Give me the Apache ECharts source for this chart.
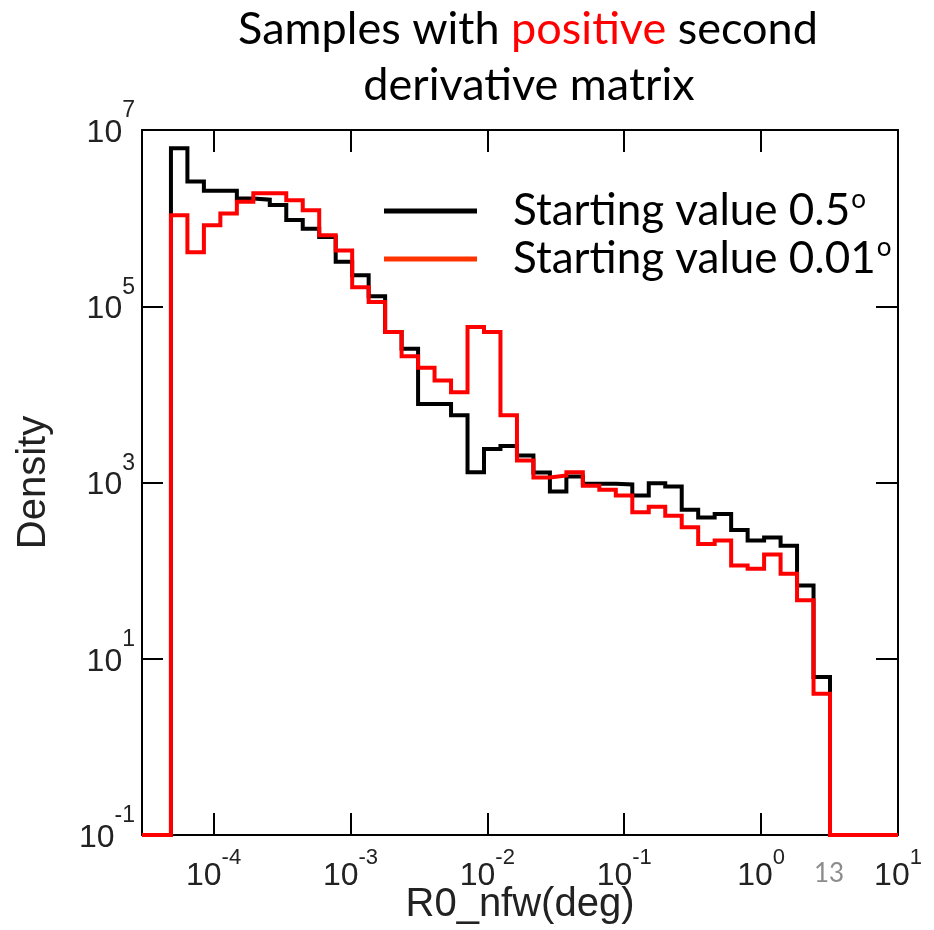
<!DOCTYPE html>
<html>
<head>
<meta charset="utf-8">
<script src="https://cdn.jsdelivr.net/npm/echarts@6/dist/echarts.min.js"></script>
<style>
html, body { margin: 0; padding: 0; background: #ffffff; }
#chart { width: 934px; height: 930px; }
</style>
</head>
<body>
<div id="chart"></div>
<script>
// Histogram bin edges (deg), log-spaced
const binEdges = [
  4.882e-5, 6.439e-5, 8.497e-5, 1.1209e-4, 1.4791e-4, 1.9513e-4, 2.5744e-4, 3.397e-4,
  4.4816e-4, 5.9117e-4, 7.8e-4, 1.0294e-3, 1.3581e-3, 1.7917e-3, 2.364e-3, 3.1189e-3,
  4.1152e-3, 5.43e-3, 7.165e-3, 9.452e-3, 1.2471e-2, 1.6456e-2, 2.1708e-2, 2.8642e-2,
  3.7792e-2, 4.9854e-2, 6.5781e-2, 8.6802e-2, 0.11454, 0.15108, 0.19934, 0.26303,
  0.34697, 0.45782, 0.60409, 0.797, 1.0515, 1.3875, 1.8302, 2.415, 3.1864
];
// Density per bin, starting value 0.5 deg (black)
const densityStart05 = [
  6.2e6, 2.6e6, 2.05e6, 2.05e6, 1.67e6, 1.62e6, 1.41e6, 9.5e5, 7.6e5, 6.1e5,
  3.2e5, 2.25e5, 1.3e5, 5.1e4, 3.3e4, 7.8e3, 7.8e3, 5.8e3, 1.31e3, 2.4e3,
  2.6e3, 2.03e3, 1.3e3, 790, 1170, 970, 970, 950, 710, 980,
  900, 490, 400, 440, 290, 219, 237, 192, 67.6, 6.2
];
// Density per bin, starting value 0.01 deg (red)
const densityStart001 = [
  1.08e6, 4.1e5, 8.3e5, 1.13e6, 1.53e6, 1.91e6, 1.91e6, 1.6e6, 1.23e6, 6.4e5,
  4.3e5, 1.64e5, 1.12e5, 5.1e4, 2.7e4, 2.0e4, 1.44e4, 1.06e4, 5.8e4, 5.1e4,
  5.8e3, 1.78e3, 1.14e3, 1.2e3, 1.31e3, 920, 830, 710, 460, 530,
  420, 310, 200, 219, 114, 105, 152, 92, 46, 4.0
];
const seriesNames = ['Starting value 0.5°', 'Starting value 0.01°'];
const xTickValues = [1e-4, 1e-3, 1e-2, 1e-1, 1, 10];
const yTickValues = [0.1, 10, 1e3, 1e5, 1e7];
const xMin = 3e-5, xMax = 10, yMin = 0.1, yMax = 1e7;

function outline(h) {
  const pts = [[xMin, yMin]];
  for (let i = 0; i < h.length; i++) pts.push([binEdges[i], h[i]]);
  pts.push([binEdges[h.length], yMin]);
  pts.push([xMax, yMin]);
  return pts;
}
function powLabel(v) {
  const e = Math.round(Math.log10(v));
  return '{b|10}{s|' + e + '}';
}
const xLabelRich = {
  b: { fontFamily: 'Liberation Sans', fontSize: 32, lineHeight: 32, color: '#222' },
  s: { fontFamily: 'Liberation Sans', fontSize: 22, lineHeight: 22, color: '#222', padding: [0, 0, 36, 0] }
};
const yLabelRich = {
  b: { fontFamily: 'Liberation Sans', fontSize: 32, lineHeight: 32, color: '#222', padding: [6, 0, 0, 0] },
  s: { fontFamily: 'Liberation Sans', fontSize: 23, lineHeight: 23, color: '#222', padding: [0, 0, 38, 0] }
};
const axisLineStyle = { show: true, onZero: false, lineStyle: { color: '#000', width: 2 } };

const chart = echarts.init(document.getElementById('chart'), null, { renderer: 'canvas' });
const option = {
  animation: false,
  backgroundColor: '#ffffff',
  grid: { left: 142, right: 36, top: 130, bottom: 95, outerBoundsMode: 'none' },
  xAxis: [
    {
      type: 'log', logBase: 10, min: xMin, max: xMax, position: 'bottom',
      name: 'R0_nfw(deg)', nameLocation: 'middle', nameGap: 50, nameMoveOverlap: false,
      nameTextStyle: { fontFamily: 'Liberation Sans', fontSize: 40, color: '#222' },
      axisLine: axisLineStyle,
      axisTick: { show: true, inside: true, length: 22, customValues: xTickValues, lineStyle: { color: '#000', width: 2 } },
      minorTick: { show: false },
      splitLine: { show: false },
      axisLabel: { show: true, margin: 25, customValues: xTickValues, formatter: powLabel, rich: xLabelRich, fontFamily: 'Liberation Sans' }
    },
    {
      type: 'log', logBase: 10, min: xMin, max: xMax, position: 'top',
      axisLine: axisLineStyle,
      axisTick: { show: true, inside: true, length: 22, customValues: xTickValues, lineStyle: { color: '#000', width: 2 } },
      minorTick: { show: false },
      splitLine: { show: false },
      axisLabel: { show: false }
    }
  ],
  yAxis: [
    {
      type: 'log', logBase: 10, min: yMin, max: yMax, position: 'left',
      name: 'Density', nameLocation: 'middle', nameGap: 88, nameRotate: 90, nameMoveOverlap: false,
      nameTextStyle: { fontFamily: 'Liberation Sans', fontSize: 40, color: '#222' },
      axisLine: axisLineStyle,
      axisTick: { show: true, inside: true, length: 21, customValues: yTickValues, lineStyle: { color: '#000', width: 2 } },
      minorTick: { show: false },
      splitLine: { show: false },
      axisLabel: { show: true, margin: 7, customValues: yTickValues, formatter: powLabel, rich: yLabelRich, fontFamily: 'Liberation Sans' }
    },
    {
      type: 'log', logBase: 10, min: yMin, max: yMax, position: 'right',
      axisLine: axisLineStyle,
      axisTick: { show: true, inside: true, length: 22, customValues: yTickValues, lineStyle: { color: '#000', width: 2 } },
      minorTick: { show: false },
      splitLine: { show: false },
      axisLabel: { show: false }
    }
  ],
  legend: {
    orient: 'vertical', left: 384, top: 187, padding: 0, itemGap: 0,
    itemWidth: 93, itemHeight: 5, icon: 'rect', selectedMode: false,
    data: [
      { name: seriesNames[0], itemStyle: { color: '#000000' } },
      { name: seriesNames[1], itemStyle: { color: '#ff3300' } }
    ],
    formatter: function (n) { return '{a|' + n.replace('°', '') + '}{o|o}'; },
    textStyle: {
      rich: {
        a: { fontFamily: 'Lato', fontSize: 44, lineHeight: 48, color: '#000', padding: [0, 0, 0, 31] },
        o: { fontFamily: 'Lato', fontSize: 26, lineHeight: 26, color: '#000', padding: [0, 0, 22, 1] }
      }
    }
  },
  graphic: [
    {
      type: 'text', x: 528, y: 29, silent: true,
      style: {
        text: '{a|Samples with }{r|positive}{a| second}',
        align: 'center', verticalAlign: 'middle',
        rich: {
          a: { fill: '#000', fontSize: 45, fontFamily: 'Lato' },
          r: { fill: '#ff0000', fontSize: 45, fontFamily: 'Lato' }
        }
      }
    },
    {
      type: 'text', x: 529, y: 85, silent: true,
      style: { text: 'derivative matrix', fill: '#000', fontSize: 45, fontFamily: 'Lato', align: 'center', verticalAlign: 'middle' }
    },
    {
      type: 'text', x: 829, y: 874, silent: true,
      style: { text: '13', fill: '#8c8c8c', fontSize: 26, fontFamily: 'Lato', align: 'center', verticalAlign: 'middle' }
    }
  ],
  series: [
    {
      type: 'line', name: seriesNames[0], xAxisIndex: 0, yAxisIndex: 0,
      data: outline(densityStart05), step: 'end', symbol: 'none', showSymbol: false, clip: false,
      lineStyle: { color: '#000000', width: 4, join: 'miter' }, itemStyle: { color: '#000000' }, z: 3
    },
    {
      type: 'line', name: seriesNames[1], xAxisIndex: 0, yAxisIndex: 0,
      data: outline(densityStart001), step: 'end', symbol: 'none', showSymbol: false, clip: false,
      lineStyle: { color: '#ff0000', width: 4, join: 'miter' }, itemStyle: { color: '#ff0000' }, z: 4
    }
  ]
};
chart.setOption(option);
</script>
</body>
</html>
